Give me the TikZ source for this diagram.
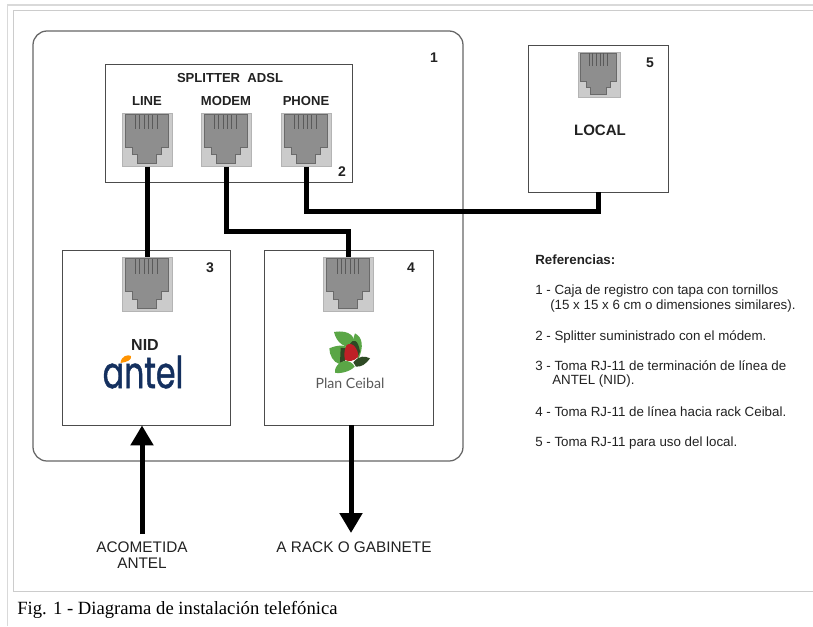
\documentclass[tikz,border=0pt]{standalone}
\usepackage{fontspec}
\setmainfont{Liberation Sans}
\newfontfamily\capfont{Liberation Serif}
\newfontfamily\logofont[FakeBold=1.2]{Poppins}
\newfontfamily\ceibalfont{Lato}
\usetikzlibrary{arrows.meta,calc}
\definecolor{jackbg}{HTML}{CBCBCB}
\definecolor{jackedge}{HTML}{B4B4B4}
\definecolor{jackfg}{HTML}{8E8E8E}
\definecolor{jackline}{HTML}{5A5A5A}
\definecolor{txt}{HTML}{222222}
\definecolor{navy}{HTML}{14305F}
\definecolor{leaf}{HTML}{5AA646}
\definecolor{leafdark}{HTML}{2E4A24}
\definecolor{leafred}{HTML}{BE2026}
\tikzset{
  jacknode/.style 2 args={draw=jackedge,fill=jackbg,line width=0.75pt,inner sep=0pt,
    minimum width=#1*0.75pt,minimum height=#2*0.75pt},
  boxnode/.style={draw=black!70,line width=0.6pt,fill=white,inner sep=0pt},
  wire/.style={line width=3.75pt,black,line cap=butt,line join=miter},
  bigarrow/.style={line width=3.75pt,black,-{Triangle[length=15pt,width=16.5pt]}},
  lab/.style={font=\fontsize{9.8pt}{11pt}\selectfont\bfseries,text=txt,inner sep=0pt},
  num/.style={font=\fontsize{10.5pt}{11pt}\selectfont\bfseries,text=txt,inner sep=0pt},
  refs/.style={font=\fontsize{10pt}{11pt}\selectfont,text=txt,inner sep=0pt,anchor=west},
  below0/.style={font=\fontsize{11.5pt}{12pt}\selectfont,text=txt,inner sep=0pt},
}
\newcommand{\jackface}[3]{%
  \begin{scope}[shift={(#1.north west)},x=#2*0.0075pt,y=-#3*0.0075pt]
    \fill[jackfg,draw=jackline!70!jackfg,line width=0.4pt] (7,3)--(7,65)--(21,65)--(21,79)--(31,79)--(31,95)--(69,95)--(69,79)--(79,79)--(79,65)--(93,65)--(93,3)--cycle;
    \foreach \k in {28,36.6,45.2,53.8,62.4,71}{\draw[jackline,line width=0.6pt] (\k,4)--(\k,32);}
  \end{scope}}
\begin{document}
\begin{tikzpicture}[x=0.75pt,y=-0.75pt]
\useasboundingbox (0,0) rectangle (813,626);
\fill[white] (0,0) rectangle (813,626);
% page frames
\draw[black!15,line width=1.4pt] (7.5,626)--(7.5,5)--(813,5);
\draw[black!20,line width=1.2pt] (813,10.5)--(13.5,10.5)--(13.5,591.5)--(813,591.5);
% case
\node[draw=black!60,line width=0.95pt,rounded corners=10.5pt,minimum width=430*0.75pt,minimum height=430*0.75pt,inner sep=0pt] (caja) at (248,246) {};
\node[boxnode,minimum width=247*0.75pt,minimum height=118*0.75pt] (split) at (228.5,123) {};
\node[boxnode,minimum width=168*0.75pt,minimum height=175*0.75pt] (box3) at (146,337.5) {};
\node[boxnode,minimum width=169*0.75pt,minimum height=175*0.75pt] (box4) at (348.5,337.5) {};
\node[boxnode,minimum width=140*0.75pt,minimum height=147*0.75pt] (box5) at (598,118.5) {};
% jacks
\node[jacknode={50}{53}] (jline) at (147,139.5) {};
\node[jacknode={50}{53}] (jmodem) at (226,139.5) {};
\node[jacknode={50}{53}] (jphone) at (306,139.5) {};
\node[jacknode={50}{54}] (jnid) at (147,284) {};
\node[jacknode={50}{54}] (jceibal) at (348.5,284) {};
\node[jacknode={42}{45}] (jlocal) at (599,74.5) {};
\jackface{jline}{50}{53}
\jackface{jmodem}{50}{53}
\jackface{jphone}{50}{53}
\jackface{jnid}{50}{54}
\jackface{jceibal}{50}{54}
\jackface{jlocal}{42}{45}
% wires
\coordinate (mbend) at (290,231);
\coordinate (pbend) at (450,211);
\draw[wire] (jline.south) -- (jnid.north);
\draw[wire] (jmodem.south) |- (mbend) -| (jceibal.north);
\draw[wire] (jphone.south) |- (pbend) -| (box5.south);
% arrows
\coordinate (arrU) at (142,534);
\coordinate (arrD) at (351,533);
\draw[bigarrow] (arrU) -- (arrU |- box3.south);
\draw[bigarrow] (arrD |- box4.south) -- (arrD);
% labels
\node[lab] (tsplit) at (230,78) {SPLITTER\ \ ADSL};
\node[lab] (tline) at (147,101) {LINE};
\node[lab] (tmodem) at (226,101) {MODEM};
\node[lab] (tphone) at (306,101) {PHONE};
\node[num] (n1) at (434,58) {1};
\node[num] (n2) at (342,172) {2};
\node[num] (n3) at (210,268) {3};
\node[num] (n4) at (411,268) {4};
\node[num] (n5) at (650,63) {5};
\node[font=\fontsize{11.3pt}{12pt}\selectfont\bfseries,text=txt,inner sep=0pt] (tlocal) at (600,130) {LOCAL};
\node[font=\fontsize{12pt}{13pt}\selectfont,text=txt,inner sep=0pt] (tnid) at (145,345) {\textbf{NID}};
% antel logo
\node[font=\fontsize{33pt}{34pt}\logofont,text=navy,inner sep=0pt,xscale=0.72,transform shape,draw=none] (tantel) at (143,372) {antel};
\fill[orange!85!yellow] (120.5,363) .. controls (121,356) and (128,354) .. (131,356) .. controls (132,360) and (127,362) .. (120.5,363) -- cycle;
% ceibal logo
\begin{scope}[shift={(60,250)},x=0.25pt,y=-0.25pt]
  \fill[leaf] (822,246) .. controls (870,238) and (890,262) .. (882,290) .. controls (855,295) and (830,280) .. (822,246) -- cycle;
  \fill[leaf] (885,250) .. controls (908,262) and (912,290) .. (895,328) .. controls (880,300) and (875,275) .. (885,250) -- cycle;
  \fill[leaf] (808,295) .. controls (835,283) and (860,285) .. (868,296) .. controls (860,318) and (852,332) .. (838,342) .. controls (820,337) and (808,315) .. (808,295) -- cycle;
  \fill[leafdark] (868,285) .. controls (880,262) and (895,270) .. (900,305) -- (892,322) .. controls (888,300) and (880,285) .. (868,285) -- cycle;
  \fill[leafdark] (842,293) -- (864,296) -- (855,333) -- (840,338) -- cycle;
  \fill[leafred] (860,285) .. controls (878,273) and (895,298) .. (895,320) .. controls (882,335) and (865,335) .. (855,330) .. controls (850,310) and (855,295) .. (860,285) -- cycle;
  \fill[leafdark] (880,337) .. controls (898,315) and (915,318) .. (930,325) .. controls (915,345) and (905,350) .. (888,350) -- cycle;
  \fill[leaf] (825,368) .. controls (822,345) and (850,326) .. (868,335) .. controls (878,340) and (882,345) .. (884,350) .. controls (870,365) and (840,372) .. (825,368) -- cycle;
\end{scope}
\node[font=\fontsize{10.6pt}{11pt}\ceibalfont,text=black!65,inner sep=0pt] (tceibal) at (350,383) {Plan Ceibal};
% references
\node[refs,font=\fontsize{10pt}{11pt}\selectfont\bfseries] (r0) at (535,260) {Referencias:};
\node[refs] (r1) at (535,291) {1 - Caja de registro con tapa con tornillos};
\node[refs] (r1b) at (550,306) {(15 x 15 x 6 cm o dimensiones similares).};
\node[refs] (r2) at (535,337) {2 - Splitter suministrado con el módem.};
\node[refs] (r3) at (535,366) {3 - Toma RJ-11 de terminación de línea de};
\node[refs] (r3b) at (552,381) {ANTEL (NID).};
\node[refs] (r4) at (535,412) {4 - Toma RJ-11 de línea hacia rack Ceibal.};
\node[refs] (r5) at (535,443) {5 - Toma RJ-11 para uso del local.};
% bottom labels
\node[below0] (tac) at (142,547) {ACOMETIDA};
\node[below0] (tan) at (142,563) {ANTEL};
\node[below0] (track) at (354,547) {A RACK O GABINETE};
\node[font=\fontsize{14pt}{15pt}\capfont,text=black,inner sep=0pt,anchor=west] (cap) at (17,610) {Fig. 1 - Diagrama de instalación telefónica};
\end{tikzpicture}
\end{document}
